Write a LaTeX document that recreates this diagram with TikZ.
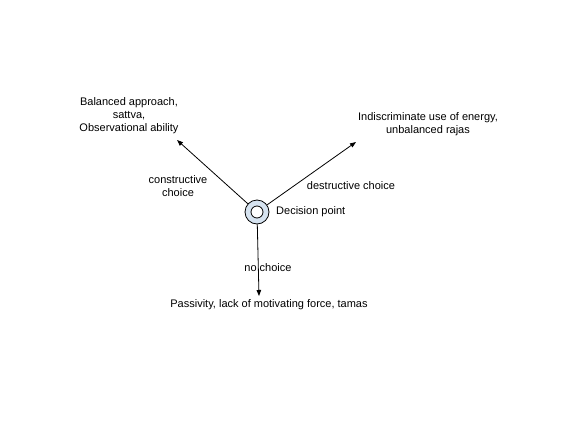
\documentclass[tikz,border=0pt]{standalone}
\usepackage{fontspec}
\setmainfont{Liberation Sans}
\usepackage{tikz}
\usetikzlibrary{arrows.meta}

\definecolor{pointblue}{RGB}{214,227,240}

\begin{document}
\begin{tikzpicture}[x=1pt,y=-1pt,
        every node/.style={font=\fontsize{11}{13}\selectfont, align=center, inner sep=0pt},
        choice/.style={-{Triangle[length=6pt,width=4.5pt]}, thick}]
        \useasboundingbox (0,0) rectangle (566,424);
        \fill[white] (0,0) rectangle (566,424);
        % decision point
        \node[circle, draw, thick, fill=pointblue, minimum size=24pt] (dp) at (257,212) {};
        \draw[thick, fill=white] (dp.center) circle (6);
        \node[anchor=west] (dplabel) at (276,212) {Decision point};
        % outcomes
        \node (sattva) at (129,116) {Balanced approach,\\ sattva,\\ Observational ability};
        \node (rajas) at (428,124) {Indiscriminate use of energy,\\ unbalanced rajas};
        \node (tamas) at (269,305) {Passivity, lack of motivating force, tamas};
        \coordinate (s) at (177,140);
        \coordinate (r) at (356,142);
        \coordinate (t) at (259,296);
        \draw[choice] (dp) -- (s);
        \draw[choice] (dp) -- (r);
        \draw[choice] (dp) -- (t);
        % arrow labels
        \node (cons) at (178,186) {constructive\\ choice};
        \node (dest) at (351,186) {destructive choice};
        \node (none) at (268,268) {no choice};
    \end{tikzpicture}
\end{document}
